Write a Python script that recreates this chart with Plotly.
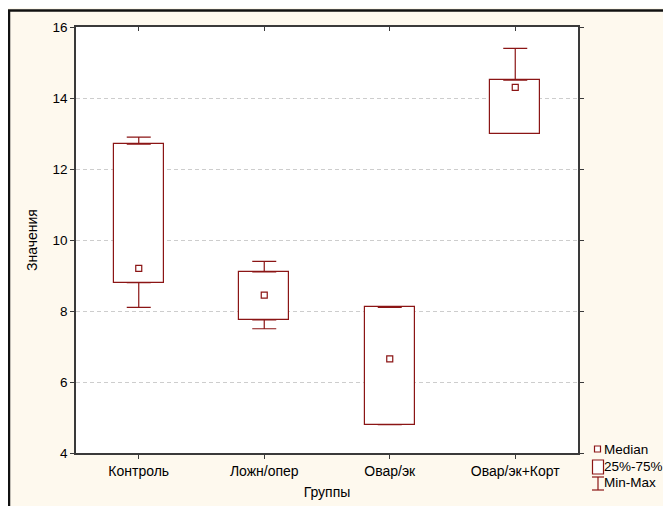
import plotly.graph_objects as go
import numpy as np

categories = ["Контроль", "Ложн/опер", "Овар/эк", "Овар/эк+Корт"]
minimum = [8.1, 7.5, 4.8, 13.0]
q1 = [8.8, 7.75, 4.8, 13.0]
median = [9.2, 8.45, 6.65, 14.3]
q3 = [12.7, 9.1, 8.1, 14.5]
maximum = [12.9, 9.4, 8.1, 15.4]
y_ticks = [4, 6, 8, 10, 12, 14, 16]

RED = "#8b1515"
FONT = "Liberation Sans, Arial, sans-serif"

q1a, q3a = np.array(q1), np.array(q3)
mina, maxa = np.array(minimum), np.array(maximum)

fig = go.Figure()

# boxes (25%-75%)
fig.add_trace(go.Bar(
    x=categories, base=q1, y=(q3a - q1a).tolist(), width=0.4,
    marker=dict(color="white", line=dict(color=RED, width=1.2)),
    showlegend=False, hoverinfo="skip"))

# upper whiskers
fig.add_trace(go.Scatter(
    x=categories, y=q3, mode="markers",
    marker=dict(size=1, color="rgba(0,0,0,0)"),
    error_y=dict(type="data", symmetric=False, array=(maxa - q3a).tolist(),
                 arrayminus=[0] * 4, color=RED, thickness=1.2, width=12),
    showlegend=False, hoverinfo="skip"))

# lower whiskers
fig.add_trace(go.Scatter(
    x=categories, y=q1, mode="markers",
    marker=dict(size=1, color="rgba(0,0,0,0)"),
    error_y=dict(type="data", symmetric=False, array=[0] * 4,
                 arrayminus=(q1a - mina).tolist(), color=RED, thickness=1.2, width=12),
    showlegend=False, hoverinfo="skip"))

# medians
fig.add_trace(go.Scatter(
    x=categories, y=median, mode="markers",
    marker=dict(symbol="square-open", size=6, color=RED, line=dict(width=1.2)),
    showlegend=False, hoverinfo="skip"))

# dummy for top axis ticks
fig.add_trace(go.Scatter(x=categories, y=median, xaxis="x2", mode="markers",
                         marker=dict(size=1, color="rgba(0,0,0,0)"),
                         showlegend=False, hoverinfo="skip"))

axis_line = "#3a3a3a"
fig.update_layout(
    width=671, height=506,
    margin=dict(l=68, r=101, t=19, b=61),
    paper_bgcolor="#fef9ee",
    plot_bgcolor="white",
    font=dict(family=FONT, size=13, color="black"),
    xaxis=dict(
        range=[-0.5, 3.5], showgrid=False, zeroline=False, automargin=False,
        showline=True, linecolor=axis_line, linewidth=1.5, mirror=True,
        ticks="outside", ticklen=4, tickcolor=axis_line,
        title=dict(text="Группы", standoff=10, font=dict(size=14)),
        tickfont=dict(size=14)),
    xaxis2=dict(
        range=[-0.5, 3.5], overlaying="x", side="top", showgrid=False,
        zeroline=False, showline=False, ticks="inside", ticklen=4, automargin=False,
        tickcolor=axis_line, showticklabels=False),
    yaxis=dict(
        range=[4, 16], tickvals=y_ticks, showgrid=True, gridcolor="#cdcdcd",
        griddash="4px,3px", gridwidth=1, zeroline=False, automargin=False,
        showline=True, linecolor=axis_line, linewidth=1.5, mirror="ticks",
        ticks="outside", ticklen=4, tickcolor=axis_line,
        title=dict(text="Значения", standoff=12, font=dict(size=14)),
        tickfont=dict(size=13.5)),
    bargap=0,
    showlegend=False,
)

def px(x):
    return (x - 76) / 502

def py(y):
    return (453 - y) / 426

# outer frame (top and left)
shapes = [
    dict(type="line", xref="paper", yref="paper",
         x0=px(8), x1=px(680), y0=py(10.5), y1=py(10.5),
         line=dict(color="#111111", width=2.5)),
    dict(type="line", xref="paper", yref="paper",
         x0=px(9), x1=px(9), y0=py(10), y1=py(515),
         line=dict(color="#111111", width=2.5)),
]

# legend symbols
shapes += [
    dict(type="rect", xref="paper", yref="paper", x0=px(594.5), x1=px(600.5),
         y0=py(452), y1=py(446), line=dict(color=RED, width=1.2), fillcolor="white"),
    dict(type="rect", xref="paper", yref="paper", x0=px(592.5), x1=px(603.5),
         y0=py(474), y1=py(460), line=dict(color=RED, width=1.2), fillcolor="white"),
    dict(type="line", xref="paper", yref="paper", x0=px(592), x1=px(604),
         y0=py(477), y1=py(477), line=dict(color=RED, width=1.2)),
    dict(type="line", xref="paper", yref="paper", x0=px(592), x1=px(604),
         y0=py(490), y1=py(490), line=dict(color=RED, width=1.2)),
    dict(type="line", xref="paper", yref="paper", x0=px(598), x1=px(598),
         y0=py(477), y1=py(490), line=dict(color=RED, width=1.2)),
]
fig.update_layout(shapes=shapes)

for text, y in [("Median", 449), ("25%-75%", 466), ("Min-Max", 483)]:
    fig.add_annotation(xref="paper", yref="paper", x=px(604), y=py(y),
                       text=text, showarrow=False, xanchor="left", yanchor="middle",
                       xshift=-2, font=dict(family=FONT, size=13.5, color="black"))

fig.write_html("out.html")
